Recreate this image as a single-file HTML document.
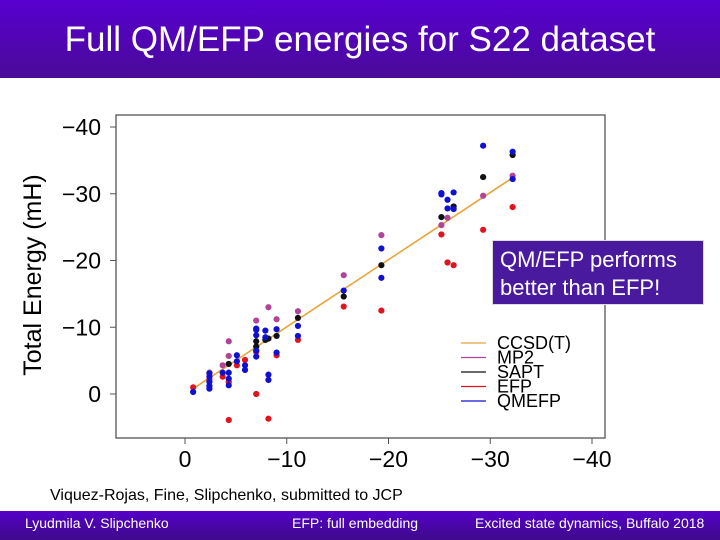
<!DOCTYPE html>
<html><head><meta charset="utf-8"><style>
body{margin:0;width:720px;height:540px;overflow:hidden;background:#fff;font-family:"Liberation Sans",sans-serif;position:relative}
#hdr{position:absolute;left:0;top:0;width:720px;height:78px;background:linear-gradient(#5800d0,#4a0a98);color:#fff;font-size:35px;text-align:center;line-height:80px}
#ftr{position:absolute;left:0;top:511px;width:720px;height:29px;background:linear-gradient(#5500c8,#3e0a8a);color:#fff;font-size:14px}
#ftr span{position:absolute;top:4px}
#cite{position:absolute;left:50px;top:487px;font-size:16px;color:#000}
#callout{position:absolute;left:492px;top:240px;width:212px;height:65px;background:#4a1a9e;color:#fff;font-size:22px;line-height:28px;padding:5px 0 0 7px;box-sizing:border-box;border:1px solid #ddd}
</style></head><body>
<div id="hdr">Full QM/EFP energies for S22 dataset</div>
<svg id="chart" width="720" height="540" style="position:absolute;left:0;top:0"></svg>
<div id="callout">QM/EFP performs better than EFP!</div>
<div id="cite">Viquez-Rojas, Fine, Slipchenko, submitted to JCP</div>
<div id="ftr"><span style="left:25px">Lyudmila V. Slipchenko</span><span style="left:292px">EFP: full embedding</span><span style="left:475px">Excited state dynamics, Buffalo 2018</span></div>
<script>
const xTicks=[0,-10,-20,-30,-40];
const yTicks=[0,-10,-20,-30,-40];
const ccsdLine=[[-0.8,-0.8],[-32.2,-32.4]];
const mp2=[[-2.4,-3.2],[-3.7,-4.3],[-4.3,-7.9],[-4.3,-5.7],[-7.0,-11.0],[-8.2,-13.0],[-9.0,-11.2],[-11.1,-12.4],[-15.6,-17.8],[-19.3,-23.8],[-25.2,-25.3],[-25.8,-26.4],[-29.3,-29.7],[-32.2,-32.7]];
const sapt=[[-4.3,-4.5],[-7.0,-7.9],[-7.0,-7.1],[-7.9,-8.1],[-8.2,-8.3],[-9.0,-8.7],[-11.1,-11.4],[-15.6,-14.6],[-19.3,-19.3],[-25.2,-26.5],[-26.4,-28.1],[-29.3,-32.5],[-32.2,-35.8]];
const efp=[[-0.8,-1.0],[-2.4,-2.2],[-3.7,-2.6],[-4.3,-1.8],[-4.3,3.9],[-5.1,-4.3],[-5.9,-5.1],[-7.0,0.0],[-7.0,-6.3],[-8.2,3.7],[-9.0,-5.8],[-11.1,-8.1],[-15.6,-13.1],[-19.3,-12.5],[-25.2,-23.9],[-25.8,-19.7],[-26.4,-19.3],[-29.3,-24.6],[-32.2,-28.0]];
const qmefp=[[-0.8,-0.3],[-2.4,-3.1],[-2.4,-2.6],[-2.4,-1.8],[-2.4,-1.2],[-2.4,-0.8],[-3.7,-3.2],[-4.3,-3.2],[-4.3,-2.3],[-4.3,-1.3],[-5.1,-5.8],[-5.1,-4.9],[-5.9,-4.3],[-5.9,-3.6],[-7.0,-9.8],[-7.0,-9.6],[-7.0,-8.8],[-7.0,-6.5],[-7.0,-5.6],[-7.9,-9.5],[-7.9,-8.5],[-8.2,-2.9],[-8.2,-2.1],[-9.0,-9.7],[-9.0,-6.2],[-11.1,-10.2],[-11.1,-8.7],[-15.6,-15.5],[-19.3,-21.8],[-19.3,-17.4],[-25.2,-30.1],[-25.2,-29.9],[-25.8,-29.1],[-25.8,-27.8],[-26.4,-30.2],[-26.4,-27.7],[-29.3,-37.2],[-32.2,-36.3],[-32.2,-32.2]];
const legendLabels=["CCSD(T)","MP2","SAPT","EFP","QMEFP"];
const legendColors=["#e8a53a","#b0449a","#111","#e0141e","#1010d0"];
const NS="http://www.w3.org/2000/svg";
const svg=document.getElementById('chart');
const X=v=>185+(v/-40)*(592-185);
const Y=v=>394-(v/-40)*(394-127);
function mk(t,a){const e=document.createElementNS(NS,t);for(const k in a)e.setAttribute(k,a[k]);svg.appendChild(e);return e;}
let f=mk('rect',{x:116,y:115,width:489,height:323,fill:'none',stroke:'#555','stroke-width':1.3});


xTicks.forEach(t=>{
 const l=mk('line',{x1:X(t),x2:X(t),y1:438,y2:444,stroke:'#555'});
 
 
 const tx=mk('text',{x:X(t),y:467,'text-anchor':'middle','font-size':23,fill:'#000'});
 tx.textContent=t===0?'0':'\u2212'+Math.abs(t);
 
 
});
yTicks.forEach(t=>{
 const l=mk('line',{x1:110,x2:116,y1:Y(t),y2:Y(t),stroke:'#555'});
 
 
 const tx=mk('text',{x:101,y:Y(t)+8,'text-anchor':'end','font-size':23,fill:'#000'});
 tx.textContent=t===0?'0':'\u2212'+Math.abs(t);
 
 
});
const yt=mk('text',{x:0,y:0,transform:'translate(41,275) rotate(-90)','text-anchor':'middle','font-size':25,fill:'#000'});
yt.textContent='Total Energy (mH)';


const cl=mk('line',{x1:X(ccsdLine[0][0]),y1:Y(ccsdLine[0][1]),x2:X(ccsdLine[1][0]),y2:Y(ccsdLine[1][1]),stroke:'#e8a53a','stroke-width':1.6});


[[mp2,'#b0449a','mp2-point'],[sapt,'#111','sapt-point'],[efp,'#e0141e','efp-point'],[qmefp,'#1010d0','qmefp-point']].forEach(([d,c,n])=>{
 d.forEach(p=>{
  const e=mk('circle',{cx:X(p[0]),cy:Y(p[1]),r:3.1,fill:c});
  
  
 });
});
legendLabels.forEach((s,i)=>{
 const y=343+i*14.5;
 const l=mk('line',{x1:461,x2:486,y1:y,y2:y,stroke:legendColors[i],'stroke-width':1.2});
 
 
 const t=mk('text',{x:497,y:y+6,'font-size':18,fill:'#000'});
 t.textContent=s;
 
 
});
</script>
</body></html>
